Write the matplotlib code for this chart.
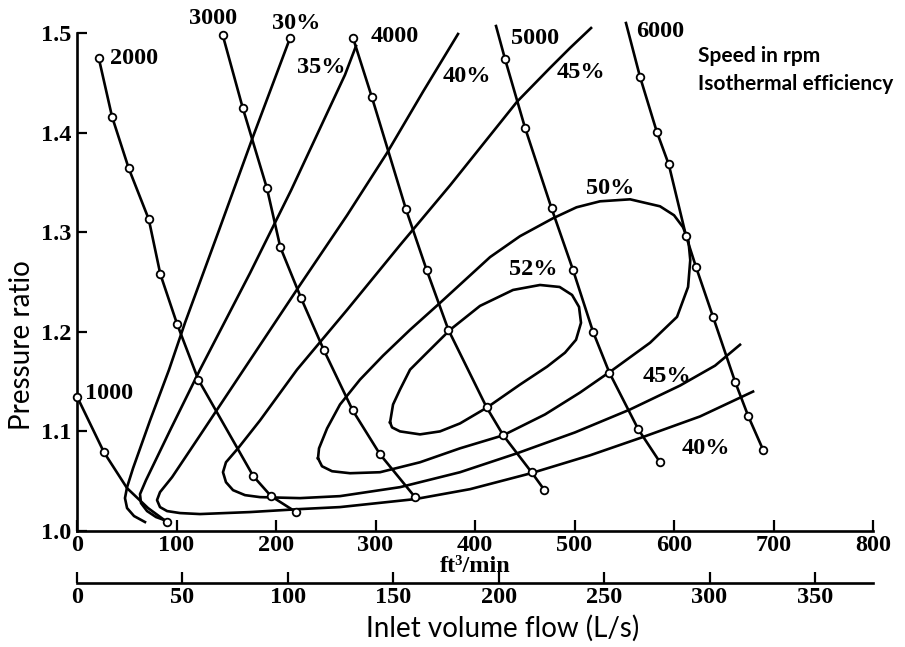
import numpy as np
import matplotlib
matplotlib.use("Agg")
import matplotlib.pyplot as plt

plt.rcParams["font.family"] = ["Liberation Serif", "DejaVu Serif"]
plt.rcParams["font.weight"] = "bold"

CFM_PER_LS = 2.11888

# speed lines: inlet flow (ft3/min) vs pressure ratio, test points
flow_1000 = [0.0, 27.1, 50.3, 71.4, 90.5]
pr_1000 = [1.135, 1.079, 1.043, 1.023, 1.009]

flow_2000 = [21.8, 35.2, 52.0, 72.1, 83.7, 100.5, 121.9, 177.2, 195.0, 220.1]
pr_2000 = [1.475, 1.416, 1.364, 1.313, 1.258, 1.208, 1.152, 1.055, 1.035, 1.019]

flow_3000 = [146.4, 166.5, 190.9, 204.3, 225.1, 247.9, 277.1, 304.5, 339.7]
pr_3000 = [1.498, 1.425, 1.344, 1.285, 1.234, 1.182, 1.121, 1.077, 1.034]

flow_4000 = [277.4, 296.2, 330.6, 351.4, 373.2, 411.7, 428.4, 456.8, 469.8]
pr_4000 = [1.495, 1.436, 1.323, 1.262, 1.202, 1.124, 1.096, 1.059, 1.041]

flow_5000 = [421.1, 430.1, 450.2, 476.9, 498.5, 518.6, 535.0, 564.1, 585.9]
pr_5000 = [1.507, 1.474, 1.405, 1.324, 1.262, 1.200, 1.159, 1.102, 1.069]

flow_6000 = [551.7, 565.8, 582.6, 594.7, 612.1, 622.1, 639.2, 661.3, 674.7, 689.7]
pr_6000 = [1.510, 1.456, 1.401, 1.368, 1.296, 1.265, 1.215, 1.150, 1.115, 1.081]

# points on the speed lines that carry no test marker
no_marker = {1000: [2, 3], 5000: [0], 6000: [0]}

# isothermal efficiency contours
eff_30_flow = [214.1, 176.9, 142.7, 108.5, 92.5, 73.4, 56.3, 50.3, 48.2, 50.3, 57.3, 68.3]
eff_30_pr = [1.495, 1.396, 1.302, 1.209, 1.162, 1.111, 1.063, 1.044, 1.033, 1.023, 1.015, 1.009]

eff_35_flow = [280.4, 269.3, 215.1, 173.9, 123.6, 93.5, 69.3, 63.3, 64.3, 70.4, 79.4, 90.5]
eff_35_pr = [1.487, 1.458, 1.342, 1.259, 1.162, 1.101, 1.051, 1.037, 1.028, 1.020, 1.014, 1.010]

eff_40_flow = [382.9, 347.7, 311.2, 271.4, 224.1, 167.5, 123.6, 95.5, 83.4, 80.4, 83.4, 90.5,
               103.5, 123.6, 173.9, 224.1, 264.3, 339.7, 395.0, 456.3, 515.6, 567.8, 626.1, 679.4]
eff_40_pr = [1.499, 1.441, 1.379, 1.317, 1.247, 1.162, 1.096, 1.054, 1.039, 1.031, 1.024, 1.020,
             1.018, 1.017, 1.019, 1.022, 1.024, 1.032, 1.042, 1.058, 1.076, 1.094, 1.115, 1.140]

eff_45_flow = [516.6, 495.5, 475.4, 442.2, 374.9, 324.6, 271.4, 221.1, 183.9, 161.8, 149.7, 146.7, 149.7,
               156.8, 168.8, 183.9, 224.1, 264.3, 324.6, 384.9, 442.2, 500.5, 555.8, 606.0, 641.2, 666.3]
eff_45_pr = [1.505, 1.485, 1.465, 1.431, 1.347, 1.287, 1.222, 1.162, 1.111, 1.083, 1.069, 1.059, 1.049,
             1.041, 1.036, 1.034, 1.033, 1.035, 1.044, 1.059, 1.078, 1.099, 1.122, 1.146, 1.166, 1.187]

eff_50_flow = [242.2, 243.2, 251.3, 264.3, 284.4, 307.5, 334.7, 364.8, 415.1, 445.2, 478.4, 502.0, 525.6,
               555.8, 585.9, 600.0, 609.0, 614.5, 616.3, 614.1, 603.0, 575.9, 538.7, 505.5, 470.3, 428.1,
               384.9, 344.7, 304.5, 274.4, 256.3, 246.2, 242.2]
eff_50_pr = [1.073, 1.083, 1.103, 1.127, 1.152, 1.176, 1.202, 1.229, 1.275, 1.296, 1.314, 1.325, 1.331,
             1.333, 1.326, 1.317, 1.305, 1.291, 1.272, 1.245, 1.215, 1.189, 1.162, 1.139, 1.117, 1.096,
             1.083, 1.069, 1.059, 1.058, 1.060, 1.065, 1.073]

eff_52_flow = [314.6, 317.6, 324.6, 334.7, 349.7, 374.9, 405.0, 438.2, 465.3, 485.0, 497.5, 504.5, 506.5,
               501.5, 490.4, 472.4, 445.2, 412.1, 384.9, 364.8, 344.7, 324.6, 316.6, 314.6]
eff_52_pr = [1.109, 1.127, 1.142, 1.162, 1.177, 1.202, 1.226, 1.242, 1.247, 1.245, 1.237, 1.225, 1.209,
             1.192, 1.179, 1.165, 1.147, 1.124, 1.108, 1.100, 1.097, 1.100, 1.104, 1.109]

# curve labels (text, flow, pressure ratio of the label's left edge)
speed_labels = ["1000", "2000", "3000", "4000", "5000", "6000"]
speed_label_x = [8, 33, 113, 295, 436, 562]
speed_label_y = [1.138, 1.474, 1.515, 1.496, 1.494, 1.502]

eff_labels = ["30%", "35%", "40%", "45%", "50%", "52%", "45%", "40%"]
eff_label_x = [196, 221, 367, 482, 512, 434, 568, 608]
eff_label_y = [1.510, 1.465, 1.456, 1.460, 1.344, 1.263, 1.155, 1.083]

x_ticks = list(range(0, 801, 100))
y_ticks = [1.0, 1.1, 1.2, 1.3, 1.4, 1.5]
ls_ticks = list(range(0, 351, 50))

LW = 1.9
TXT = 17.5

fig = plt.figure(figsize=(9.05, 6.47), dpi=100)
ax = fig.add_axes([0.0851, 0.1793, 0.8796, 0.7697])

speeds = [(1000, flow_1000, pr_1000), (2000, flow_2000, pr_2000), (3000, flow_3000, pr_3000),
          (4000, flow_4000, pr_4000), (5000, flow_5000, pr_5000), (6000, flow_6000, pr_6000)]
for rpm, f, p in speeds:
    ax.plot(f, p, color="black", lw=LW, clip_on=False, zorder=3)
    keep = [i for i in range(len(f)) if i not in no_marker.get(rpm, [])]
    ax.plot([f[i] for i in keep], [p[i] for i in keep], ls="none", marker="o", ms=5.5,
            mfc="white", mec="black", mew=1.3, clip_on=False, zorder=4)

contours = [(eff_30_flow, eff_30_pr), (eff_35_flow, eff_35_pr), (eff_40_flow, eff_40_pr),
            (eff_45_flow, eff_45_pr), (eff_50_flow, eff_50_pr), (eff_52_flow, eff_52_pr)]
for f, p in contours:
    ax.plot(f, p, color="black", lw=LW, clip_on=False, zorder=2, solid_joinstyle="round")
# small circle at the top end of the 30% line
ax.plot(eff_30_flow[0], eff_30_pr[0], ls="none", marker="o", ms=5.5, mfc="white",
        mec="black", mew=1.3, clip_on=False, zorder=4)

for t, x, y in zip(speed_labels, speed_label_x, speed_label_y):
    ax.text(x, y, t, fontsize=TXT, ha="left", va="center", clip_on=False)
for t, x, y in zip(eff_labels, eff_label_x, eff_label_y):
    ax.text(x, y, t, fontsize=TXT, ha="left", va="center", clip_on=False)

ax.set_xlim(0, 800)
ax.set_ylim(1.0, 1.5)
for s in ("top", "right"):
    ax.spines[s].set_visible(False)
for s in ("left", "bottom"):
    ax.spines[s].set_linewidth(1.9)
ax.set_xticks(x_ticks)
ax.set_yticks(y_ticks)
ax.set_yticklabels([f"{v:.1f}" for v in y_ticks])
ax.tick_params(axis="x", direction="in", length=8, width=1.6, labelsize=TXT, pad=3)
ax.tick_params(axis="y", direction="in", length=7, width=1.6, labelsize=TXT, pad=4)

ax.set_xlabel("ft³/min", fontsize=TXT, fontweight="bold", labelpad=0)

sec = ax.secondary_xaxis(-0.104, functions=(lambda q: q / CFM_PER_LS, lambda q: q * CFM_PER_LS))
sec.set_xticks(ls_ticks)
sec.tick_params(direction="in", length=8, width=1.6, labelsize=TXT, pad=3)
sec.spines["bottom"].set_linewidth(1.9)

sans = ["Lato", "DejaVu Sans"]
fig.text(503 / 905, 1 - 628 / 647, "Inlet volume flow (L/s)", family=sans, weight="normal",
         fontsize=20, ha="center", va="center")
fig.text(22 / 905, 1 - 345 / 647, "Pressure ratio", family=sans, weight="normal",
         fontsize=20, ha="center", va="center", rotation=90)
fig.text(698 / 905, 1 - 56 / 647, "Speed in rpm", family=sans, weight="bold",
         fontsize=15, ha="left", va="center")
fig.text(698 / 905, 1 - 84 / 647, "Isothermal efficiency", family=sans, weight="bold",
         fontsize=15, ha="left", va="center")

fig.savefig("out.png", dpi=100, facecolor="white")
